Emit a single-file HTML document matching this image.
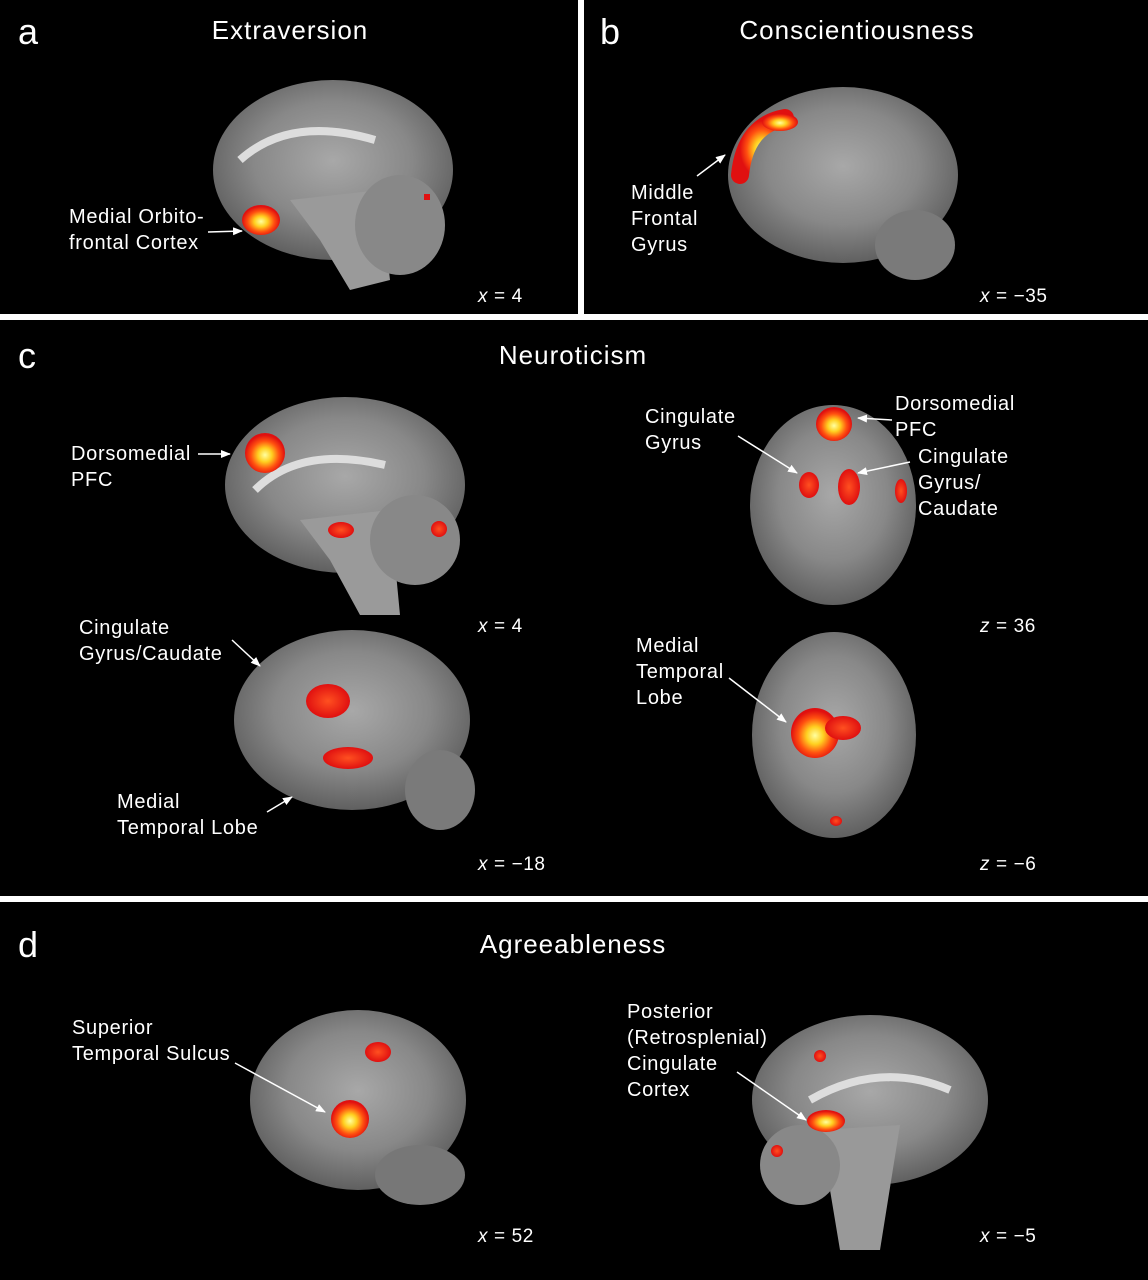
<!DOCTYPE html>
<html><head><style>
html,body{margin:0;padding:0;background:#fff}
svg{display:block}
text{font-family:"Liberation Sans",Arial,sans-serif;fill:#fff}
.l{font-size:20px;letter-spacing:0.7px}
.c{font-size:19px;letter-spacing:0.6px}
.t{font-size:26px;letter-spacing:1px}
</style></head><body>
<svg width="1148" height="1280" viewBox="0 0 1148 1280" xmlns="http://www.w3.org/2000/svg">
<defs>
<radialGradient id="br" cx="50%" cy="45%" r="55%">
<stop offset="0" stop-color="#a8a8a8"/><stop offset="0.6" stop-color="#888"/><stop offset="1" stop-color="#606060"/>
</radialGradient>
<radialGradient id="hot" cx="50%" cy="55%" r="50%">
<stop offset="0" stop-color="#ffffa0"/><stop offset="0.35" stop-color="#ffd020"/><stop offset="0.7" stop-color="#ff5010"/><stop offset="1" stop-color="#e01010"/>
</radialGradient>
<radialGradient id="red" cx="50%" cy="50%" r="50%">
<stop offset="0" stop-color="#ff5020"/><stop offset="1" stop-color="#e01010"/>
</radialGradient>
<marker id="ar" markerWidth="10" markerHeight="8" refX="9" refY="4" orient="auto" markerUnits="userSpaceOnUse"><path d="M0,0 L10,4 L0,8 z" fill="#fff"/></marker>
</defs>
<rect width="1148" height="1280" fill="#fff"/>
<rect x="0" y="0" width="578" height="314" fill="#000"/>
<rect x="584" y="0" width="564" height="314" fill="#000"/>
<rect x="0" y="320" width="1148" height="576" fill="#000"/>
<rect x="0" y="902" width="1148" height="378" fill="#000"/>

<!-- panel a -->
<text x="18" y="44" font-size="36">a</text>
<text x="290" y="39" class="t" text-anchor="middle">Extraversion</text>
<ellipse cx="333" cy="170" rx="120" ry="90" fill="url(#br)"/>
<path d="M290 200 L380 190 L390 280 L350 290 L320 240 Z" fill="#9a9a9a"/>
<ellipse cx="400" cy="225" rx="45" ry="50" fill="#888"/>
<path d="M240 160 Q290 115 375 140" stroke="#ddd" stroke-width="8" fill="none"/>
<ellipse cx="261" cy="220" rx="19" ry="15" fill="url(#hot)"/>
<rect x="424" y="194" width="6" height="6" fill="#e01010"/>
<text x="69" y="223" class="l">Medial Orbito-</text>
<text x="69" y="249" class="l">frontal Cortex</text>
<line x1="208" y1="232" x2="242" y2="231" stroke="#fff" stroke-width="1.5" marker-end="url(#ar)"/>
<text x="478" y="302" class="c"><tspan font-style="italic">x</tspan> = 4</text>

<!-- panel b -->
<text x="600" y="44" font-size="36">b</text>
<text x="857" y="39" class="t" text-anchor="middle">Conscientiousness</text>
<ellipse cx="843" cy="175" rx="115" ry="88" fill="url(#br)"/>
<ellipse cx="915" cy="245" rx="40" ry="35" fill="#7a7a7a"/>
<path d="M740 175 Q745 125 785 118" stroke="url(#hot)" stroke-width="18" fill="none" stroke-linecap="round"/>
<ellipse cx="780" cy="122" rx="18" ry="9" fill="url(#hot)"/>
<text x="631" y="199" class="l">Middle</text>
<text x="631" y="225" class="l">Frontal</text>
<text x="631" y="251" class="l">Gyrus</text>
<line x1="697" y1="176" x2="725" y2="155" stroke="#fff" stroke-width="1.5" marker-end="url(#ar)"/>
<text x="980" y="302" class="c"><tspan font-style="italic">x</tspan> = −35</text>

<!-- panel c -->
<text x="18" y="368" font-size="36">c</text>
<text x="573" y="364" class="t" text-anchor="middle">Neuroticism</text>
<ellipse cx="345" cy="485" rx="120" ry="88" fill="url(#br)"/>
<path d="M300 520 L390 510 L400 615 L360 615 L330 560 Z" fill="#9a9a9a"/>
<ellipse cx="415" cy="540" rx="45" ry="45" fill="#888"/>
<path d="M255 490 Q300 445 385 465" stroke="#ddd" stroke-width="8" fill="none"/>
<ellipse cx="265" cy="453" rx="20" ry="20" fill="url(#hot)"/>
<ellipse cx="341" cy="530" rx="13" ry="8" fill="url(#red)"/>
<ellipse cx="439" cy="529" rx="8" ry="8" fill="url(#red)"/>
<text x="71" y="460" class="l">Dorsomedial</text>
<text x="71" y="486" class="l">PFC</text>
<line x1="198" y1="454" x2="230" y2="454" stroke="#fff" stroke-width="1.5" marker-end="url(#ar)"/>
<text x="478" y="632" class="c"><tspan font-style="italic">x</tspan> = 4</text>

<ellipse cx="833" cy="505" rx="83" ry="100" fill="url(#br)"/>
<ellipse cx="834" cy="424" rx="18" ry="17" fill="url(#hot)"/>
<ellipse cx="809" cy="485" rx="10" ry="13" fill="url(#red)"/>
<ellipse cx="849" cy="487" rx="11" ry="18" fill="url(#red)"/>
<ellipse cx="901" cy="491" rx="6" ry="12" fill="url(#red)"/>
<text x="645" y="423" class="l">Cingulate</text>
<text x="645" y="449" class="l">Gyrus</text>
<line x1="738" y1="436" x2="797" y2="473" stroke="#fff" stroke-width="1.5" marker-end="url(#ar)"/>
<text x="895" y="410" class="l">Dorsomedial</text>
<text x="895" y="436" class="l">PFC</text>
<line x1="892" y1="420" x2="858" y2="418" stroke="#fff" stroke-width="1.5" marker-end="url(#ar)"/>
<text x="918" y="463" class="l">Cingulate</text>
<text x="918" y="489" class="l">Gyrus/</text>
<text x="918" y="515" class="l">Caudate</text>
<line x1="910" y1="462" x2="858" y2="473" stroke="#fff" stroke-width="1.5" marker-end="url(#ar)"/>
<text x="980" y="632" class="c"><tspan font-style="italic">z</tspan> = 36</text>

<ellipse cx="352" cy="720" rx="118" ry="90" fill="url(#br)"/>
<ellipse cx="440" cy="790" rx="35" ry="40" fill="#7a7a7a"/>
<ellipse cx="328" cy="701" rx="22" ry="17" fill="url(#red)"/>
<ellipse cx="348" cy="758" rx="25" ry="11" fill="url(#red)"/>
<text x="79" y="634" class="l">Cingulate</text>
<text x="79" y="660" class="l">Gyrus/Caudate</text>
<line x1="232" y1="640" x2="260" y2="666" stroke="#fff" stroke-width="1.5" marker-end="url(#ar)"/>
<text x="117" y="808" class="l">Medial</text>
<text x="117" y="834" class="l">Temporal Lobe</text>
<line x1="267" y1="812" x2="292" y2="797" stroke="#fff" stroke-width="1.5" marker-end="url(#ar)"/>
<text x="478" y="870" class="c"><tspan font-style="italic">x</tspan> = −18</text>

<ellipse cx="834" cy="735" rx="82" ry="103" fill="url(#br)"/>
<ellipse cx="815" cy="733" rx="24" ry="25" fill="url(#hot)"/>
<ellipse cx="843" cy="728" rx="18" ry="12" fill="url(#red)"/>
<ellipse cx="836" cy="821" rx="6" ry="5" fill="url(#red)"/>
<text x="636" y="652" class="l">Medial</text>
<text x="636" y="678" class="l">Temporal</text>
<text x="636" y="704" class="l">Lobe</text>
<line x1="729" y1="678" x2="786" y2="722" stroke="#fff" stroke-width="1.5" marker-end="url(#ar)"/>
<text x="980" y="870" class="c"><tspan font-style="italic">z</tspan> = −6</text>

<!-- panel d -->
<text x="18" y="957" font-size="36">d</text>
<text x="573" y="953" class="t" text-anchor="middle">Agreeableness</text>
<ellipse cx="358" cy="1100" rx="108" ry="90" fill="url(#br)"/>
<ellipse cx="420" cy="1175" rx="45" ry="30" fill="#777"/>
<ellipse cx="378" cy="1052" rx="13" ry="10" fill="url(#red)"/>
<ellipse cx="350" cy="1119" rx="19" ry="19" fill="url(#hot)"/>
<text x="72" y="1034" class="l">Superior</text>
<text x="72" y="1060" class="l">Temporal Sulcus</text>
<line x1="235" y1="1063" x2="325" y2="1112" stroke="#fff" stroke-width="1.5" marker-end="url(#ar)"/>
<text x="478" y="1242" class="c"><tspan font-style="italic">x</tspan> = 52</text>

<ellipse cx="870" cy="1100" rx="118" ry="85" fill="url(#br)"/>
<path d="M820 1130 L900 1125 L880 1250 L840 1250 Z" fill="#999"/>
<ellipse cx="800" cy="1165" rx="40" ry="40" fill="#888"/>
<path d="M810 1100 Q880 1060 950 1090" stroke="#ddd" stroke-width="8" fill="none"/>
<ellipse cx="826" cy="1121" rx="19" ry="11" fill="url(#hot)"/>
<ellipse cx="820" cy="1056" rx="6" ry="6" fill="url(#red)"/>
<ellipse cx="777" cy="1151" rx="6" ry="6" fill="url(#red)"/>
<text x="627" y="1018" class="l">Posterior</text>
<text x="627" y="1044" class="l">(Retrosplenial)</text>
<text x="627" y="1070" class="l">Cingulate</text>
<text x="627" y="1096" class="l">Cortex</text>
<line x1="737" y1="1072" x2="806" y2="1120" stroke="#fff" stroke-width="1.5" marker-end="url(#ar)"/>
<text x="980" y="1242" class="c"><tspan font-style="italic">x</tspan> = −5</text>
</svg>
</body></html>
